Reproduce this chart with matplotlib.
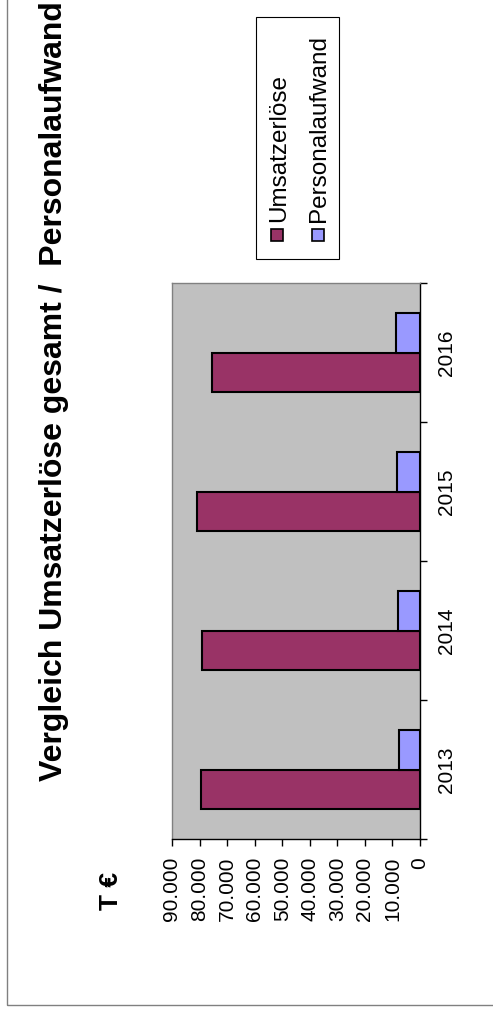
import numpy as np
import matplotlib
matplotlib.use("Agg")
import matplotlib.pyplot as plt
from matplotlib.patches import Rectangle

# Excel-Diagramm, um 90 Grad gedreht (Text liest von unten nach oben)

plt.rcParams["font.family"] = ["Liberation Sans", "DejaVu Sans"]

years = ["2013", "2014", "2015", "2016"]
umsatz = [79600, 79000, 80800, 75500]
personal = [7600, 8000, 8200, 8700]
series_names = ["Umsatzerlöse", "Personalaufwand"]
series_colors = ["#993366", "#9999FF"]
value_ticks = [0, 10000, 20000, 30000, 40000, 50000, 60000, 70000, 80000, 90000]
value_labels = ["0", "10.000", "20.000", "30.000", "40.000",
                "50.000", "60.000", "70.000", "80.000", "90.000"]
title = "Vergleich Umsatzerlöse gesamt /  Personalaufwand"
unit = "T €"

W, H = 493, 1011


def fx(px):
    return px / W


def fy(py):
    return 1 - py / H


fig = plt.figure(figsize=(W / 100, H / 100), dpi=100)
fig.patch.set_facecolor("white")

# plot area
ax = fig.add_axes([fx(172), fy(839), fx(420) - fx(172), fy(283) - fy(839)])
ax.set_facecolor("#C0C0C0")

pos = np.arange(len(years))
bw = 0.284
ax.barh(pos - bw / 2, umsatz, height=bw, color=series_colors[0],
        edgecolor="black", linewidth=1.5, zorder=3)
ax.barh(pos + bw / 2, personal, height=bw, color=series_colors[1],
        edgecolor="black", linewidth=1.5, zorder=3)
ax.set_xlim(90000, 0)
ax.set_ylim(-0.5, len(years) - 0.5)

for s in ["left", "top"]:
    ax.spines[s].set_color("#808080")
    ax.spines[s].set_linewidth(1)
for s in ["right", "bottom"]:
    ax.spines[s].set_color("black")
    ax.spines[s].set_linewidth(1)

# value axis
ax.set_xticks(value_ticks)
ax.set_xticklabels(value_labels, rotation=90, fontsize=15)
ax.tick_params(axis="x", direction="out", length=5, width=1, pad=8)

# category axis (right side after rotation)
ax.yaxis.tick_right()
ax.set_yticks(np.arange(-0.5, len(years)))
ax.set_yticklabels([])
ax.set_yticks(pos, minor=True)
ax.set_yticklabels(years, minor=True, rotation=90, fontsize=15, va="center")
ax.tick_params(axis="y", which="major", direction="out", length=5, width=1,
               left=False, right=True)
ax.tick_params(axis="y", which="minor", length=0, pad=12, left=False,
               right=True, labelleft=False, labelright=True)

# title and unit
fig.text(fx(62), fy(391), title, rotation=90, rotation_mode="anchor",
         ha="center", va="baseline", fontsize=23, fontweight="bold")
fig.text(fx(118), fy(891), unit, rotation=90, rotation_mode="anchor",
         ha="center", va="baseline", fontsize=19, fontweight="bold")

# legend drawn by hand, rotated
fig.patches.append(Rectangle((fx(256), fy(259)), fx(339) - fx(256), fy(17) - fy(259),
                             transform=fig.transFigure, facecolor="white",
                             edgecolor="black", linewidth=0.8))
marker_x = [276.5, 318]
text_x = [285, 325]
for name, color, mx, tx in zip(series_names, series_colors, marker_x, text_x):
    fig.patches.append(Rectangle((fx(mx - 6), fy(241)), 12 / W, 12 / H,
                                 transform=fig.transFigure, facecolor=color,
                                 edgecolor="black", linewidth=1.2))
    fig.text(fx(tx), fy(222), name, rotation=90, rotation_mode="anchor",
             ha="left", va="baseline", fontsize=17.5)

# chart area border
fig.patches.append(Rectangle((fx(7), fy(1005)), 1, 1, transform=fig.transFigure,
                             fill=False, edgecolor="#808080", linewidth=1))

fig.savefig("out.png", dpi=100)
